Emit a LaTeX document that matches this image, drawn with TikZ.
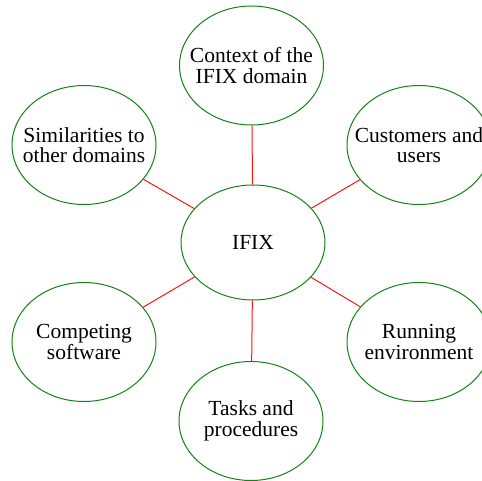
\documentclass[tikz,border=0pt]{standalone}
\usepackage{fontspec}
\setmainfont{Liberation Serif}
\usetikzlibrary{shapes.geometric}
\definecolor{ovalgreen}{RGB}{20,130,20}
\definecolor{linkred}{RGB}{250,20,20}
\begin{document}
\begin{tikzpicture}[x=1pt,y=-1pt,
  oval/.style={ellipse,draw=ovalgreen,line width=1pt,minimum width=144pt,minimum height=119pt,inner sep=0pt},
  lbl/.style={align=center,inner sep=0pt,font=\fontsize{21.5}{20.5}\selectfont},
  link/.style={draw=linkred,line width=1pt}]
\useasboundingbox (0,0) rectangle (482,481);
\clip (0,0) rectangle (482,481);
\node[oval,minimum height=115pt] (c) at (253,242.5) {};
\node[oval] (t) at (251.5,65.5) {};
\node[oval] (lt) at (84,145) {};
\node[oval] (rt) at (419,145) {};
\node[oval] (lb) at (84,342) {};
\node[oval] (rb) at (419,342) {};
\node[oval] (b) at (251,421) {};
\node[lbl] (tc) at (c) {IFIX};
\node[lbl] (tt) at (t) {Context of the\\IFIX domain};
\node[lbl] (tlt) at (lt) {Similarities to\\other domains};
\node[lbl] (trt) at (rt) {Customers and\\users};
\node[lbl] (tlb) at (lb) {Competing\\software};
\node[lbl] (trb) at (rb) {Running\\environment};
\node[lbl] (tb) at (b) {Tasks and\\procedures};
\foreach \n in {t,lt,rt,lb,rb,b} \draw[link] (c) -- (\n);
\end{tikzpicture}
\end{document}
